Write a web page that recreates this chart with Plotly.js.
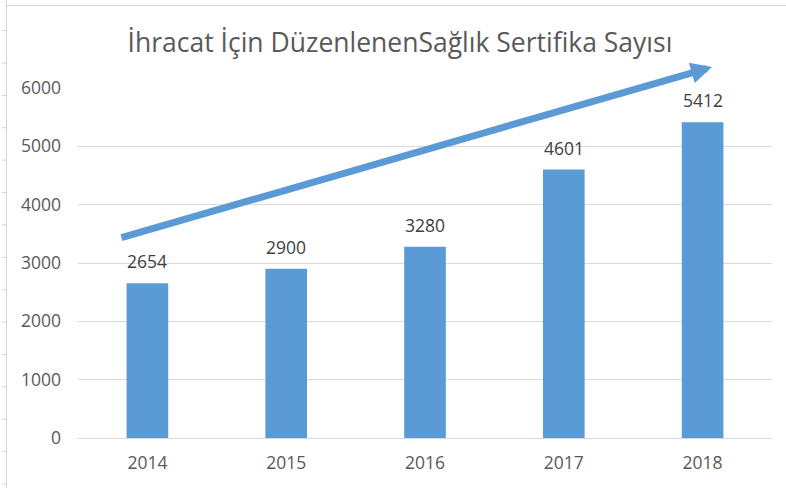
<!DOCTYPE html>
<html>
<head>
<meta charset="utf-8">
<script src="https://cdn.plot.ly/plotly-3.0.1.min.js"></script>
<style>html,body{margin:0;padding:0;background:#fff;}#chart{width:786px;height:488px;}</style>
</head>
<body>
<div id="chart"></div>
<script>
var years = ['2014', '2015', '2016', '2017', '2018'];
var certificates = [2654, 2900, 3280, 4601, 5412];
var yTickValues = [0, 1000, 2000, 3000, 4000, 5000, 6000];
var titleText = 'İhracat İçin DüzenlenenSağlık Sertifika Sayısı';

var W = 786, H = 488;
var margin = {l: 78, r: 14, t: 88, b: 50};
var pw = W - margin.l - margin.r, ph = H - margin.t - margin.b;
function px2x(p) { return (p - margin.l) / pw; }
function px2y(p) { return (H - margin.b - p) / ph; }

var bar = {
  type: 'bar',
  x: years,
  y: certificates,
  marker: {color: '#5B9BD5'},
  width: 0.3,
  hoverinfo: 'x+y'
};

var annotations = years.map(function (yr, i) {
  return {
    x: i, y: certificates[i], xref: 'x', yref: 'y',
    text: String(certificates[i]), showarrow: false,
    yanchor: 'bottom', yshift: 8,
    font: {family: 'Open Sans, sans-serif', size: 17.5, color: '#404040'}
  };
});
annotations.push({
  xref: 'paper', yref: 'paper', axref: 'paper', ayref: 'paper',
  x: px2x(712), y: px2y(67), ax: px2x(120), ay: px2y(238),
  text: '', showarrow: true, arrowhead: 2, arrowsize: 0.6, arrowwidth: 7,
  arrowcolor: '#5B9BD5'
});

var shapes = [];
var borderColor = '#d4d4d4';
shapes.push({type: 'line', xref: 'paper', yref: 'paper',
  x0: px2x(6.5), x1: px2x(6.5), y0: px2y(0), y1: px2y(488),
  line: {color: borderColor, width: 1}});
shapes.push({type: 'line', xref: 'paper', yref: 'paper',
  x0: px2x(6.5), x1: px2x(786), y0: px2y(5.5), y1: px2y(5.5),
  line: {color: borderColor, width: 1}});
for (var k = 0; k < 15; k++) {
  var yy = 30.5 + k * 32.4;
  shapes.push({type: 'line', xref: 'paper', yref: 'paper',
    x0: px2x(2), x1: px2x(6.5), y0: px2y(yy), y1: px2y(yy),
    line: {color: borderColor, width: 1}});
}

var layout = {
  width: W, height: H,
  margin: margin,
  paper_bgcolor: '#ffffff', plot_bgcolor: '#ffffff',
  showlegend: false,
  title: {
    text: titleText, xref: 'container', yref: 'container',
    x: 400 / W, y: 1 - 43 / H, xanchor: 'center', yanchor: 'middle',
    font: {family: 'Open Sans, sans-serif', size: 26.5, color: '#595959'}
  },
  xaxis: {
    type: 'category', range: [-0.5, years.length - 0.5],
    showgrid: false, showline: false, zeroline: false,
    ticks: '', ticklabelstandoff: 12,
    tickfont: {family: 'Open Sans, sans-serif', size: 17.5, color: '#595959'}
  },
  yaxis: {
    range: [0, 6000], tickvals: yTickValues, showgrid: true,
    gridcolor: '#d9d9d9', gridwidth: 1, zeroline: true, zerolinecolor: '#d9d9d9',
    showline: false, ticks: '', ticklabelstandoff: 16,
    tickfont: {family: 'Open Sans, sans-serif', size: 17.5, color: '#595959'}
  },
  annotations: annotations,
  shapes: shapes
};

Plotly.newPlot('chart', [bar], layout, {displayModeBar: false, staticPlot: true});
</script>
</body>
</html>
